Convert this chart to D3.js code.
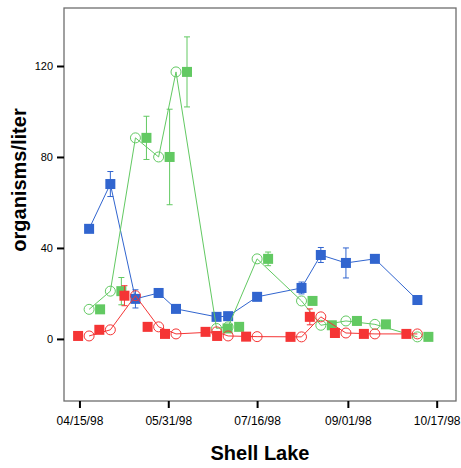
<!DOCTYPE html>
<html>
<head>
<title>Shell Lake</title>
<script src="https://d3js.org/d3.v7.min.js"></script>
<style>
body,html {
  margin: 0;
  padding: 0;
  background: #fff;
}
svg {
  display: block;
  font-family: Arial, "Liberation Sans", sans-serif;
}
</style>
</head>
<body>

<svg id="chart" width="461" height="468"></svg>

<script>

// sampling dates and values
const sampleDates = ["04/20/98", "05/01/98", "05/14/98", "05/26/98", "06/04/98", "06/25/98", "07/01/98",
                     "07/16/98", "08/08/98", "08/18/98", "08/31/98", "09/15/98", "10/07/98"];
const blueMean  = [48.4, 68.1, 17.6, 20.2, 13.2, 9.7, 10.0, 18.5, 22.4, 36.9, 33.4, 35.2, 17.1];
const blueErr   = [0, 5.5, 4, 0, 0, 0, 0, 0, 2.6, 3.3, 6.6, 1, 0];
const greenMean = [13.0, 21.0, 88.4, 80.0, 117.4, 4.6, 5.3, 35.2, 16.7, 6.0, 7.9, 6.4, 0.9];
const greenErr  = [0, 6, 9.5, 21, 15.4, 0, 0, 3, 0, 0, 0, 0, 0];
const redMean   = [1.3, 4.0, 19.0, 5.3, 2.2, 3.1, 1.3, 1.0, 0.9, 9.7, 2.6, 2.2, 2.2];
const redErr    = [0, 0, 4.4, 0, 0, 0, 0, 0, 0, 3.5, 0, 0, 0];

const xTickLabels = ["04/15/98", "05/31/98", "07/16/98", "09/01/98", "10/17/98"];
const yTickValues = [0, 40, 80, 120];

const parse = d3.timeParse("%m/%d/%y");
const fmt = d3.timeFormat("%m/%d/%y");

const svg = d3.select("#chart");

const plotLeft = 64, plotRight = 456, plotTop = 8, plotBottom = 401;

const x = d3.scaleTime()
            .domain([parse("04/07/98"), parse("10/27/98")])
            .range([plotLeft, plotRight]);

const y = d3.scaleLinear()
            .domain([-27.3, 145.5])
            .range([plotBottom, plotTop]);

const blue = "#3165cf", green = "#62c962", red = "#f53535";
const dodge = 11;

// frame
svg.append("rect")
   .attr("x", plotLeft).attr("y", plotTop)
   .attr("width", plotRight - plotLeft).attr("height", plotBottom - plotTop)
   .attr("fill", "none")
   .attr("stroke", "#6e6e6e")
   .attr("stroke-width", 1.3);

// axes
const yAxis = d3.axisLeft(y).tickValues(yTickValues).tickSize(7).tickPadding(4);
const gy = svg.append("g")
   .attr("transform", "translate(" + plotLeft + ",0)")
   .style("font-size", "11px")
   .call(yAxis);
gy.select(".domain").remove();
gy.selectAll("line").attr("stroke", "#000").attr("stroke-width", 2);
gy.selectAll("text").attr("fill", "#000").style("font-family", "Arial, 'Liberation Sans', sans-serif");

const xAxis = d3.axisBottom(x)
                .tickValues(xTickLabels.map(parse))
                .tickFormat(fmt)
                .tickSize(7).tickPadding(8);
const gx = svg.append("g")
   .attr("transform", "translate(0," + plotBottom + ")")
   .style("font-size", "12px")
   .call(xAxis);
gx.select(".domain").remove();
gx.selectAll("line").attr("stroke", "#000").attr("stroke-width", 2);
gx.selectAll("text").attr("fill", "#000").style("font-family", "Arial, 'Liberation Sans', sans-serif");

// titles
svg.append("text")
   .attr("x", 260).attr("y", 460)
   .attr("text-anchor", "middle")
   .style("font-size", "20px").style("font-weight", "bold")
   .text("Shell Lake");

svg.append("text")
   .attr("transform", "translate(26,180) rotate(-90)")
   .attr("text-anchor", "middle")
   .style("font-size", "20px").style("font-weight", "bold")
   .text("organisms/liter");

function rows(mean, err) {
  return sampleDates.map((d, i) => ({ date: parse(d), v: mean[i], e: err[i] }));
}

const line = d3.line().x(d => x(d.date)).y(d => y(d.v));

function errorBars(g, data, color, off) {
  const eb = g.selectAll(null).data(data.filter(d => d.e > 0)).enter().append("g")
     .attr("stroke", color).attr("stroke-width", 1);
  eb.append("line")
     .attr("x1", d => x(d.date) + off).attr("x2", d => x(d.date) + off)
     .attr("y1", d => y(d.v - d.e)).attr("y2", d => y(d.v + d.e));
  [-1, 1].forEach(s => {
    eb.append("line")
       .attr("x1", d => x(d.date) + off - 3).attr("x2", d => x(d.date) + off + 3)
       .attr("y1", d => y(d.v + s * d.e)).attr("y2", d => y(d.v + s * d.e));
  });
}

function squares(g, data, color, off) {
  g.selectAll(null).data(data).enter().append("rect")
     .attr("x", d => x(d.date) + off - 5)
     .attr("y", d => y(d.v) - 5)
     .attr("width", 10).attr("height", 10)
     .attr("fill", color);
}

function circles(g, data, color) {
  g.selectAll(null).data(data).enter().append("circle")
     .attr("cx", d => x(d.date))
     .attr("cy", d => y(d.v))
     .attr("r", 5)
     .attr("fill", "none")
     .attr("stroke", color)
     .attr("stroke-width", 1);
}

// blue: squares on the line
const bData = rows(blueMean, blueErr);
const gb = svg.append("g");
gb.append("path").attr("d", line(bData)).attr("fill", "none").attr("stroke", blue).attr("stroke-width", 1);
errorBars(gb, bData, blue, 0);
squares(gb, bData, blue, 0);

// green: circles on the line, squares shifted right
const gData = rows(greenMean, greenErr);
const gg = svg.append("g");
gg.append("path").attr("d", line(gData)).attr("fill", "none").attr("stroke", green).attr("stroke-width", 1);
errorBars(gg, gData, green, dodge);
squares(gg, gData, green, dodge);
circles(gg, gData, green);

// red: circles on the line, squares shifted left
const rData = rows(redMean, redErr);
const gr = svg.append("g");
gr.append("path").attr("d", line(rData)).attr("fill", "none").attr("stroke", red).attr("stroke-width", 1);
errorBars(gr, rData, red, -dodge);
squares(gr, rData, red, -dodge);
circles(gr, rData, red);

</script>
</body>
</html>
